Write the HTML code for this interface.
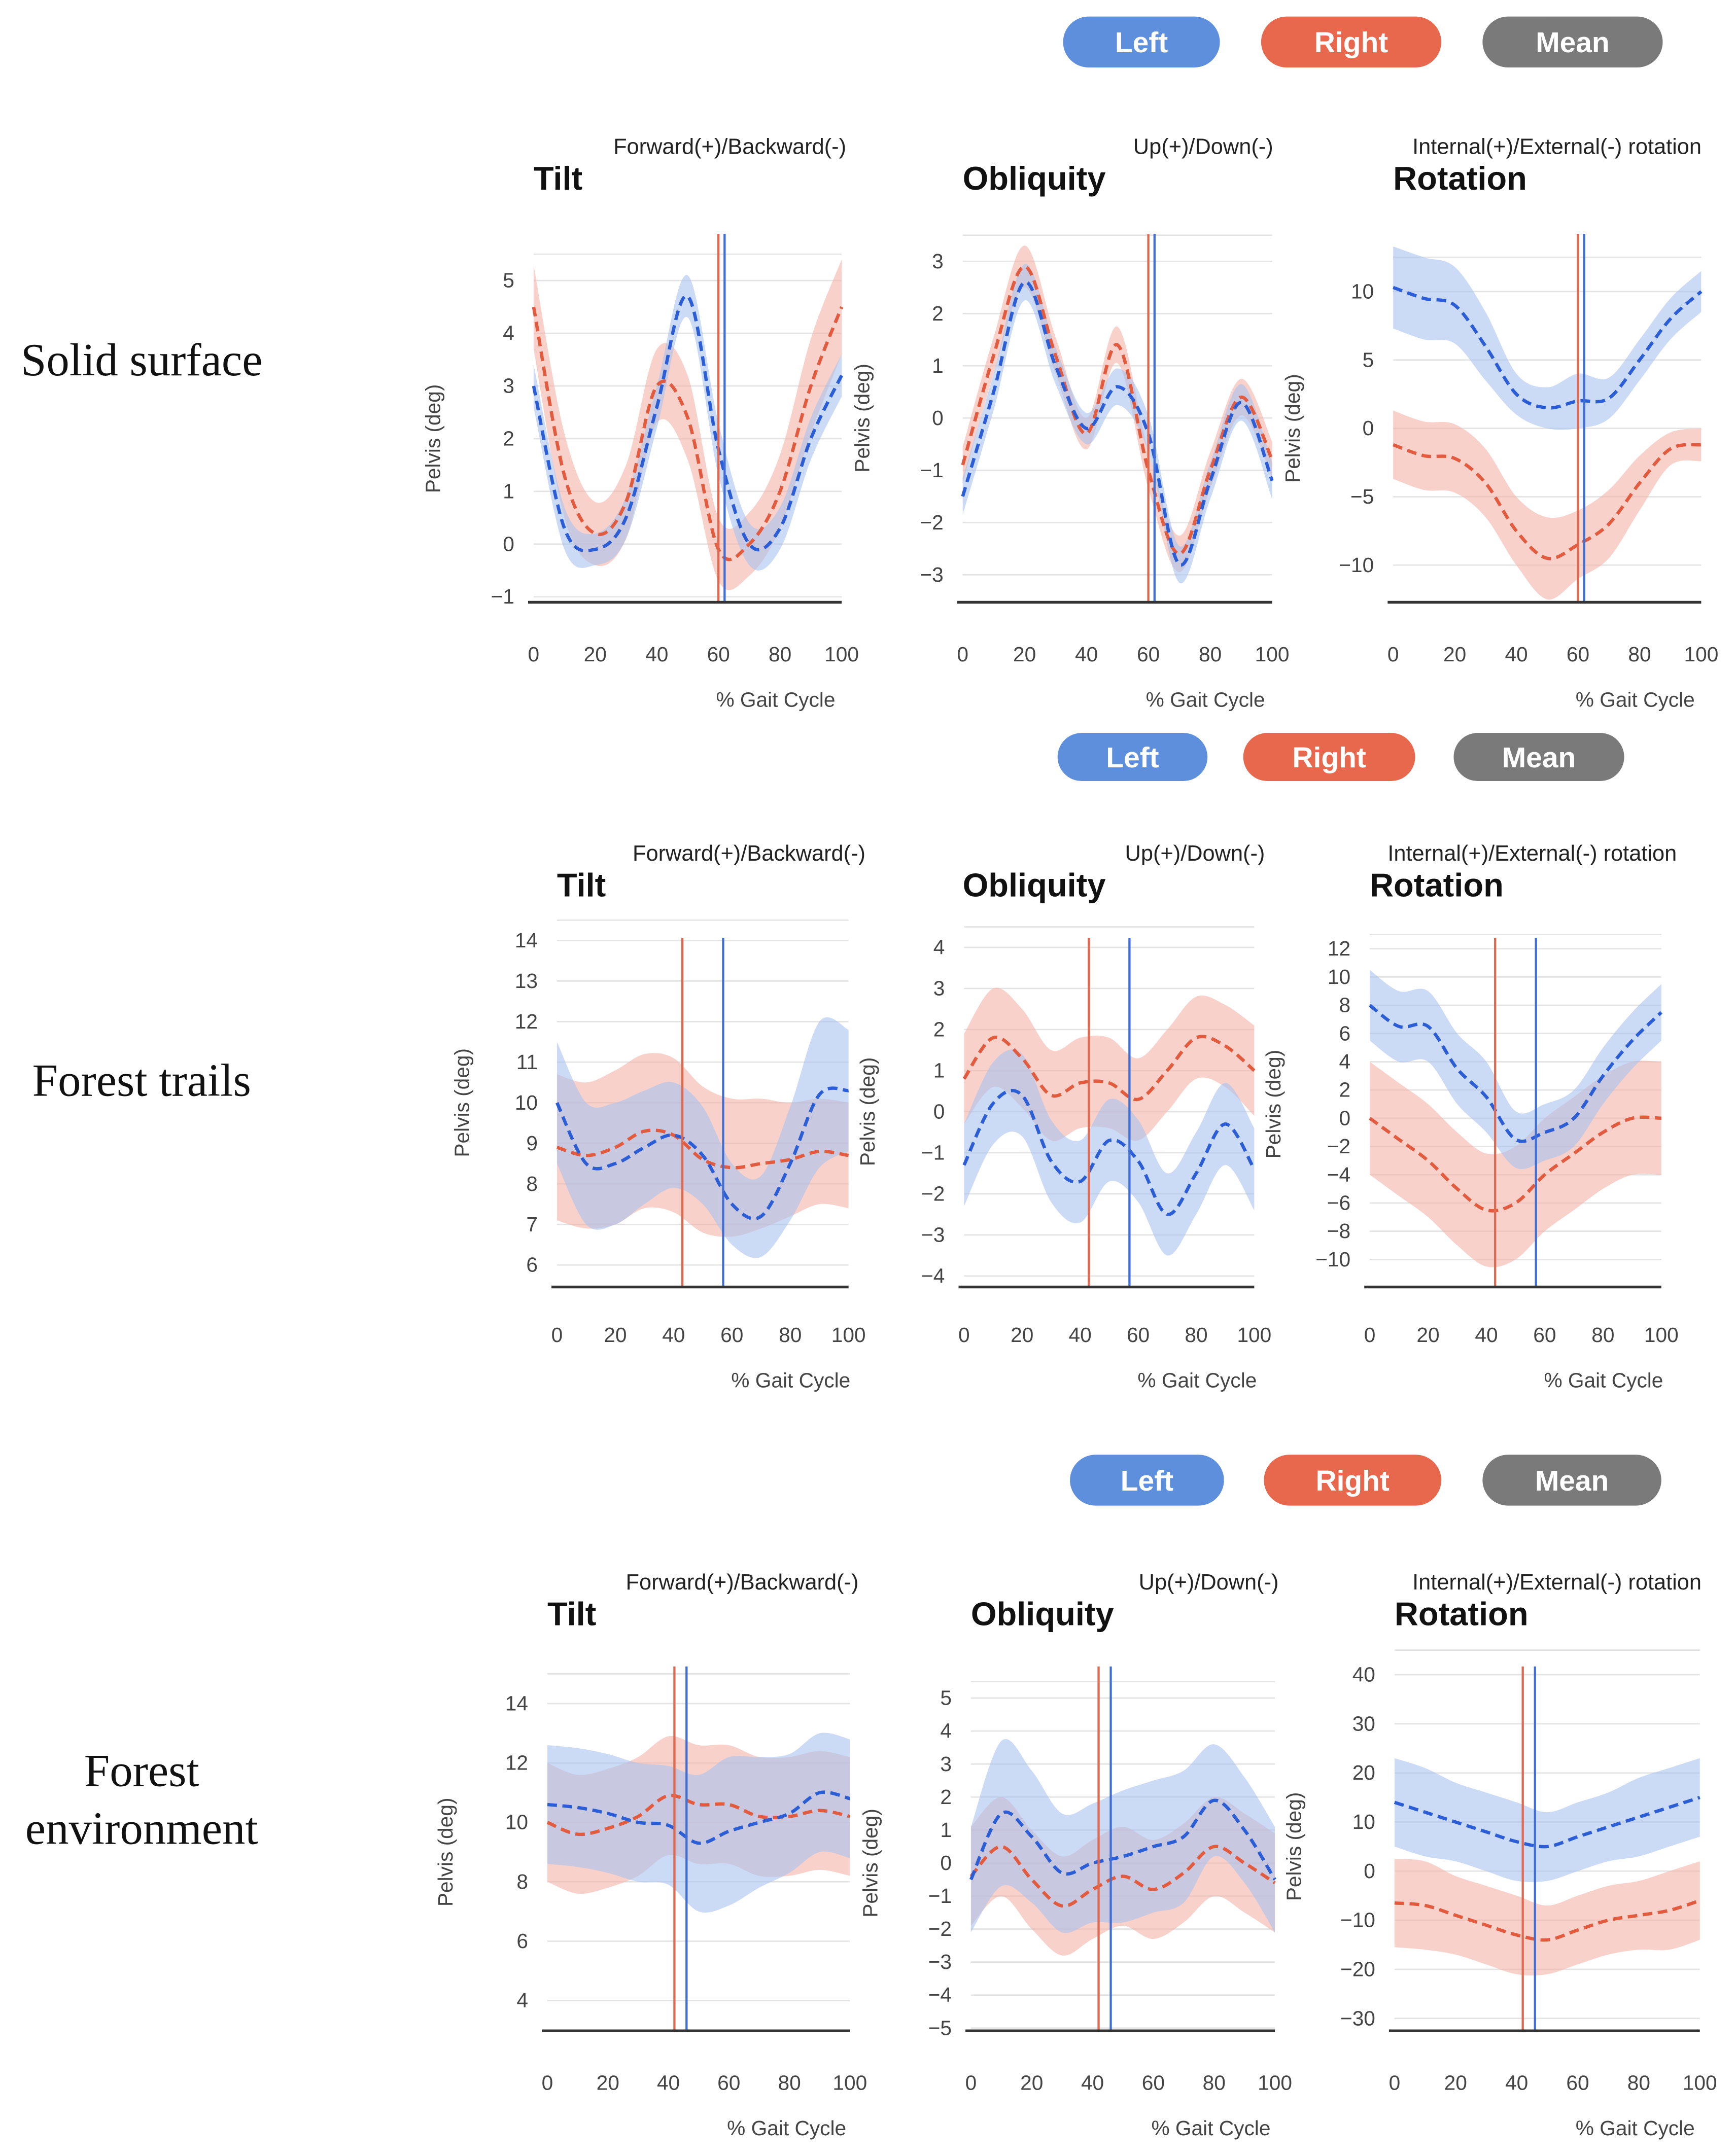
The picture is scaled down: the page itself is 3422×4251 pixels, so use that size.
<!DOCTYPE html>
<html><head><meta charset="utf-8"><style>
html,body{margin:0;padding:0;background:#fff;}
svg{display:block;}
</style></head><body>
<svg id="fig" xmlns="http://www.w3.org/2000/svg" width="3422" height="4251" viewBox="0 0 1262.3 1568">
<rect width="1262.3" height="1568" fill="#fff"/>
<g id="root"></g>
</svg>
<script>
const xCats=[0,10,20,30,40,50,60,70,80,90,100];
const xTicks=[0,20,40,60,80,100];
// Row 1: Solid surface
const solidTiltLeft=[3.0,0.3,-0.1,0.5,2.6,4.7,1.8,0.0,0.3,2.0,3.2];
const solidTiltRight=[4.5,1.3,0.2,0.8,3.0,2.4,-0.1,0.0,1.0,3.0,4.5];
const solidTiltLeftSd=[0.4,0.4,0.3,0.4,0.4,0.4,0.5,0.4,0.4,0.4,0.4];
const solidTiltRightSd=[0.8,0.8,0.6,0.7,0.7,0.8,0.6,0.6,0.7,0.9,0.9];
const solidOblLeft=[-1.5,0.5,2.6,1.0,-0.2,0.6,-0.3,-2.8,-1.2,0.3,-1.2];
const solidOblRight=[-0.9,1.2,2.9,1.2,-0.3,1.4,-1.0,-2.6,-1.0,0.4,-0.8];
const solidOblLeftSd=[0.35,0.35,0.35,0.35,0.3,0.35,0.35,0.35,0.35,0.35,0.35];
const solidOblRightSd=[0.35,0.35,0.4,0.35,0.3,0.35,0.35,0.35,0.35,0.35,0.35];
const solidRotLeft=[10.3,9.5,9.0,6.0,2.5,1.5,2.0,2.2,5.0,8.0,10.0];
const solidRotRight=[-1.2,-2.0,-2.2,-4.0,-7.5,-9.5,-8.5,-7.0,-4.0,-1.5,-1.2];
const solidRotLeftSd=[3,3,2.8,2.5,1.5,1.5,2,1.5,1.5,1.5,1.5];
const solidRotRightSd=[2.5,2.5,2.5,2.5,2.5,3,2.5,2.5,2,1.2,1.2];
// Row 2: Forest trails
const trailTiltLeft=[10.0,8.5,8.5,8.9,9.2,8.7,7.5,7.2,8.5,10.2,10.3];
const trailTiltRight=[8.9,8.7,8.9,9.3,9.2,8.6,8.4,8.5,8.6,8.8,8.7];
const trailTiltLeftSd=[1.5,1.5,1.5,1.4,1.3,1.2,1.0,1.0,1.4,1.8,1.5];
const trailTiltRightSd=[1.8,1.8,1.9,1.9,1.9,1.8,1.7,1.6,1.4,1.3,1.3];
const trailOblLeft=[-1.3,0.2,0.4,-1.2,-1.7,-0.7,-1.2,-2.5,-1.5,-0.3,-1.4];
const trailOblRight=[0.8,1.8,1.3,0.4,0.7,0.7,0.3,1.0,1.8,1.6,1.0];
const trailOblLeftSd=[1.0,1.0,1.0,1.0,1.0,1.0,1.0,1.0,1.0,1.0,1.0];
const trailOblRightSd=[1.1,1.2,1.2,1.1,1.1,1.1,1.0,1.0,1.0,1.0,1.1];
const trailRotLeft=[8.0,6.5,6.5,3.5,1.5,-1.5,-1.0,0.0,3.0,5.5,7.5];
const trailRotRight=[0.0,-1.5,-3.0,-5.0,-6.5,-6.0,-4.0,-2.5,-1.0,0.0,0.0];
const trailRotLeftSd=[2.5,2.5,2.5,2.5,2.5,2.0,2.0,2.0,2.0,2.0,2.0];
const trailRotRightSd=[4,4,4,4,4,4,4,4,4,4,4];
// Row 3: Forest environment
const envTiltLeft=[10.6,10.5,10.3,10.0,9.9,9.3,9.7,10.0,10.3,11.0,10.8];
const envTiltRight=[10.0,9.6,9.8,10.2,10.9,10.6,10.6,10.2,10.2,10.4,10.2];
const envTiltLeftSd=[2,2,2,2,2,2.3,2.5,2.2,2,2,2];
const envTiltRightSd=[2,2,2,2,2,2,2,2,2,2,2];
const envOblLeft=[-0.5,1.5,0.8,-0.3,0.0,0.2,0.5,0.8,1.9,1.0,-0.5];
const envOblRight=[-0.4,0.5,-0.5,-1.3,-0.8,-0.4,-0.8,-0.3,0.5,0.0,-0.6];
const envOblLeftSd=[1.6,2.2,2.0,1.8,1.8,2,2,2,1.7,1.6,1.6];
const envOblRightSd=[1.5,1.5,1.5,1.5,1.5,1.5,1.5,1.5,1.5,1.5,1.5];
const envRotLeft=[14,12,10,8,6,5,7,9,11,13,15];
const envRotRight=[-6.5,-7,-9,-11,-13,-14,-12,-10,-9,-8,-6];
const envRotLeftSd=[9,9,8,8,8,7,7,7,8,8,8];
const envRotRightSd=[9,9,8,8,8,7,7,7,7,8,8];
// Stance/toe-off markers (% gait cycle)
const solidToeOff=[60,62];
const trailToeOff=[43,57];
const envToeOff=[42,46];

const NS='http://www.w3.org/2000/svg';
const root=document.getElementById('root');
function el(tag,attrs,parent,text){const e=document.createElementNS(NS,tag);for(const k in attrs)e.setAttribute(k,attrs[k]);if(text!==undefined)e.textContent=text;(parent||root).appendChild(e);return e;}
const FONT='"Liberation Sans", sans-serif';

function smooth(pts){let d='M'+pts[0][0]+','+pts[0][1];for(let i=0;i<pts.length-1;i++){const p0=pts[Math.max(0,i-1)],p1=pts[i],p2=pts[i+1],p3=pts[Math.min(pts.length-1,i+2)];const c1=[p1[0]+(p2[0]-p0[0])/6,p1[1]+(p2[1]-p0[1])/6],c2=[p2[0]-(p3[0]-p1[0])/6,p2[1]-(p3[1]-p1[1])/6];d+=' C'+c1[0]+','+c1[1]+' '+c2[0]+','+c2[1]+' '+p2[0]+','+p2[1];}return d;}

function pill(x,y,w,h,fill,label,name){
  const g=el('g',{});
  
  
  el('rect',{x:x,y:y,width:w,height:h,rx:h/2,fill:fill},g);
  el('text',{x:x+w/2,y:y+h/2+7.5,'text-anchor':'middle','font-family':FONT,'font-size':21,'font-weight':'bold',fill:'#fff'},g,label);
}
function legend(y,h,pos){
  pill(pos[0],y,pos[1]-pos[0],h,'#5e8fdc','Left','legend-left');
  pill(pos[2],y,pos[3]-pos[2],h,'#e8684d','Right','legend-right');
  pill(pos[4],y,pos[5]-pos[4],h,'#7a7a7a','Mean','legend-mean');
}

function chart(c){
  const g=el('g',{});
  
  
  const xs=v=>c.x0+(v/100)*(c.x1-c.x0);
  const ys=v=>c.yA+(v-c.vA)*(c.yB-c.yA)/(c.vB-c.vA);
  const step=c.ticks[1]-c.ticks[0];
  for(const t of c.ticks){
    const gl=el('line',{x1:c.x0,x2:c.x1,y1:ys(t),y2:ys(t),stroke:'#e3e3e3','stroke-width':1},g);
    
    
    const tl=el('text',{x:c.x0-14,y:ys(t)+5,'text-anchor':'end','font-family':FONT,'font-size':15,fill:'#444'},g,(t<0?'\u2212'+(-t):''+t));
    
    
  }
  const topG=el('line',{x1:c.x0,x2:c.x1,y1:ys(c.ticks[c.ticks.length-1]+step*0.5),y2:ys(c.ticks[c.ticks.length-1]+step*0.5),stroke:'#e3e3e3','stroke-width':1},g);
  
  
  const series=[[c.right,c.rightSd,'#f4b3a6','#e35b3e','right'],[c.left,c.leftSd,'#a9c1ee','#2b5ed6','left']];
  for(const s of series){
    const up=xCats.map((x,i)=>[xs(x),ys(s[0][i]+s[1][i])]);
    const lo=xCats.map((x,i)=>[xs(x),ys(s[0][i]-s[1][i])]).reverse();
    const d=smooth(up)+' L'+lo[0][0]+','+lo[0][1]+smooth(lo).slice(('M'+lo[0][0]+','+lo[0][1]).length)+' Z';
    const b=el('path',{d:d,fill:s[2],'fill-opacity':0.6},g);
    
    
  }
  for(const s of series){
    const pts=xCats.map((x,i)=>[xs(x),ys(s[0][i])]);
    const l=el('path',{d:smooth(pts),fill:'none',stroke:s[3],'stroke-width':2.4,'stroke-dasharray':'7,4'},g);
    
    
  }
  const vcol=['#e0684f','#3f6fd6'];
  c.toe.forEach((v,i)=>{
    const vl=el('line',{x1:xs(v),x2:xs(v),y1:c.vTop,y2:c.base,stroke:vcol[i],'stroke-width':1.6},g);
    
    
  });
  const bl=el('line',{x1:c.x0-4,x2:c.x1,y1:c.base,y2:c.base,stroke:'#333','stroke-width':2},g);
  
  
  for(const t of xTicks){
    const tl=el('text',{x:xs(t),y:c.tickY,'text-anchor':'middle','font-family':FONT,'font-size':15,fill:'#444'},g,''+t);
    
    
  }
  const xt=el('text',{x:(c.x0+c.x1)/2+64,y:c.tickY+33,'text-anchor':'middle','font-family':FONT,'font-size':15,fill:'#444'},g,'% Gait Cycle');
  
  
  const ym=(c.yA+c.yB)/2;
  const yt=el('text',{x:c.yTitleX,y:ym,'text-anchor':'middle','font-family':FONT,'font-size':15,fill:'#444',transform:'rotate(-90 '+c.yTitleX+' '+ym+')'},g,'Pelvis (deg)');
  
  
  const ti=el('text',{x:c.titleX,y:c.titleY,'font-family':FONT,'font-size':24,'font-weight':'bold',fill:'#111'},g,c.title);
  
  
  const st=el('text',{x:c.subX,y:c.titleY-26,'font-family':FONT,'font-size':16,fill:'#222'},g,c.sub);
  
  
}
function rowLabel(lines,cx,y){
  lines.forEach((t,i)=>{
    const e=el('text',{x:cx,y:y+i*42,'text-anchor':'middle','font-family':'"Liberation Serif", serif','font-size':33.5,fill:'#111'},root,t);
    
    
  });
}
const TS='Forward(+)/Backward(-)',OS='Up(+)/Down(-)',RS='Internal(+)/External(-) rotation';
// Row 1
legend(12,37,[773,887,917,1048,1078,1209]);
rowLabel(['Solid surface'],103,273);
chart({name:'solid-tilt-chart',x0:388,x1:612,yA:204,vA:5,yB:434,vB:-1,ticks:[-1,0,1,2,3,4,5],base:438,vTop:170,tickY:481,yTitleX:320,titleX:388,titleY:138,subX:446,title:'Tilt',sub:TS,left:solidTiltLeft,right:solidTiltRight,leftSd:solidTiltLeftSd,rightSd:solidTiltRightSd,toe:solidToeOff});
chart({name:'solid-obliquity-chart',x0:700,x1:925,yA:190,vA:3,yB:418,vB:-3,ticks:[-3,-2,-1,0,1,2,3],base:438,vTop:170,tickY:481,yTitleX:632,titleX:700,titleY:138,subX:824,title:'Obliquity',sub:OS,left:solidOblLeft,right:solidOblRight,leftSd:solidOblLeftSd,rightSd:solidOblRightSd,toe:solidToeOff});
chart({name:'solid-rotation-chart',x0:1013,x1:1237,yA:212,vA:10,yB:411,vB:-10,ticks:[-10,-5,0,5,10],base:438,vTop:170,tickY:481,yTitleX:945,titleX:1013,titleY:138,subX:1027,title:'Rotation',sub:RS,left:solidRotLeft,right:solidRotRight,leftSd:solidRotLeftSd,rightSd:solidRotRightSd,toe:solidToeOff});
// Row 2
legend(533,35,[769,878,904,1029,1057,1181]);
rowLabel(['Forest trails'],103,797);
chart({name:'trail-tilt-chart',x0:405,x1:617,yA:684,vA:14,yB:920,vB:6,ticks:[6,7,8,9,10,11,12,13,14],base:936,vTop:682,tickY:976,yTitleX:341,titleX:405,titleY:652,subX:460,title:'Tilt',sub:TS,left:trailTiltLeft,right:trailTiltRight,leftSd:trailTiltLeftSd,rightSd:trailTiltRightSd,toe:trailToeOff});
chart({name:'trail-obliquity-chart',x0:701,x1:912,yA:689,vA:4,yB:928,vB:-4,ticks:[-4,-3,-2,-1,0,1,2,3,4],base:936,vTop:682,tickY:976,yTitleX:636,titleX:700,titleY:652,subX:818,title:'Obliquity',sub:OS,left:trailOblLeft,right:trailOblRight,leftSd:trailOblLeftSd,rightSd:trailOblRightSd,toe:trailToeOff});
chart({name:'trail-rotation-chart',x0:996,x1:1208,yA:690,vA:12,yB:916,vB:-10,ticks:[-10,-8,-6,-4,-2,0,2,4,6,8,10,12],base:936,vTop:682,tickY:976,yTitleX:931,titleX:996,titleY:652,subX:1009,title:'Rotation',sub:RS,left:trailRotLeft,right:trailRotRight,leftSd:trailRotLeftSd,rightSd:trailRotRightSd,toe:trailToeOff});
// Row 3
legend(1058,37,[778,890,919,1048,1078,1208]);
rowLabel(['Forest','environment'],103,1299);
chart({name:'env-tilt-chart',x0:398,x1:618,yA:1239,vA:14,yB:1455,vB:4,ticks:[4,6,8,10,12,14],base:1477,vTop:1212,tickY:1520,yTitleX:329,titleX:398,titleY:1182,subX:455,title:'Tilt',sub:TS,left:envTiltLeft,right:envTiltRight,leftSd:envTiltLeftSd,rightSd:envTiltRightSd,toe:envToeOff});
chart({name:'env-obliquity-chart',x0:706,x1:927,yA:1235,vA:5,yB:1475,vB:-5,ticks:[-5,-4,-3,-2,-1,0,1,2,3,4,5],base:1477,vTop:1212,tickY:1520,yTitleX:638,titleX:706,titleY:1182,subX:828,title:'Obliquity',sub:OS,left:envOblLeft,right:envOblRight,leftSd:envOblLeftSd,rightSd:envOblRightSd,toe:envToeOff});
chart({name:'env-rotation-chart',x0:1014,x1:1236,yA:1218,vA:40,yB:1468,vB:-30,ticks:[-30,-20,-10,0,10,20,30,40],base:1477,vTop:1212,tickY:1520,yTitleX:946,titleX:1014,titleY:1182,subX:1027,title:'Rotation',sub:RS,left:envRotLeft,right:envRotRight,leftSd:envRotLeftSd,rightSd:envRotRightSd,toe:envToeOff});
</script>
</body></html>
